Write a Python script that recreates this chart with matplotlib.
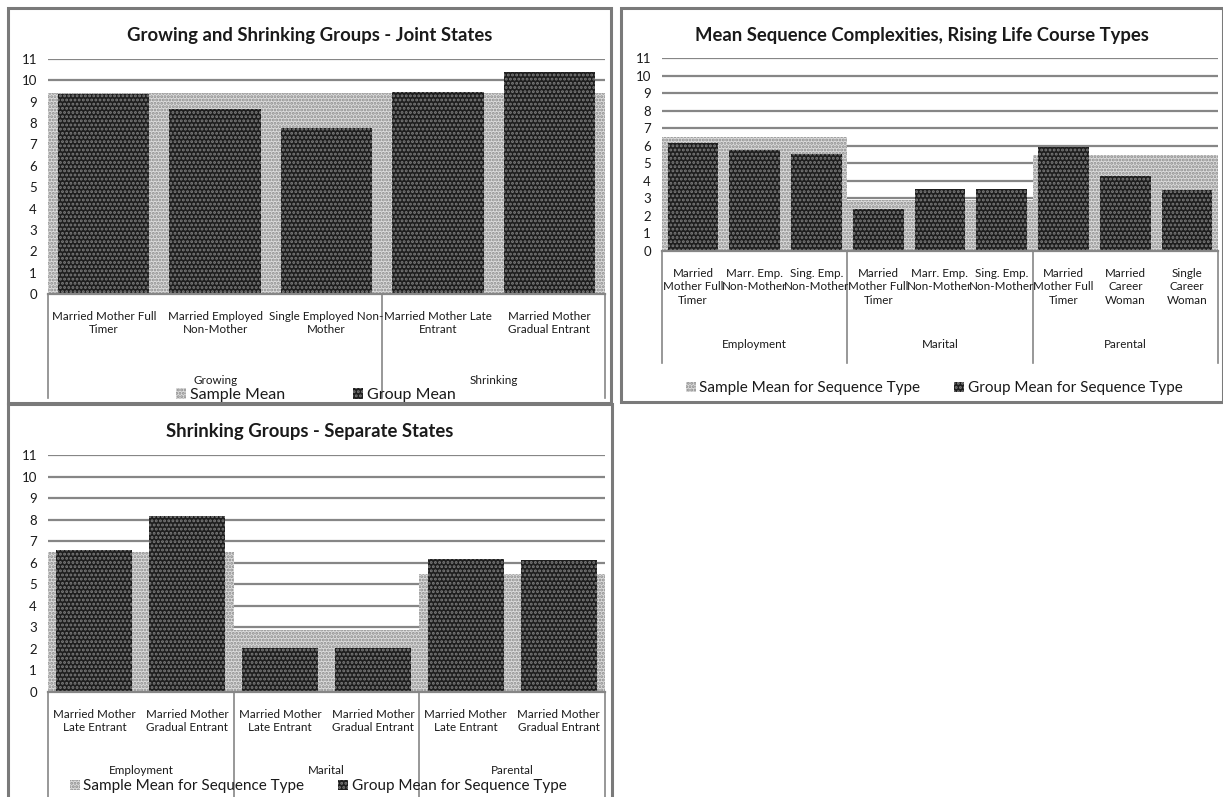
"""
Sequence complexity panels: sample means vs group means, three Excel-style bar charts.
"""
import matplotlib
matplotlib.use('Agg')
import matplotlib.pyplot as plt
import matplotlib.transforms as mtransforms
from matplotlib.patches import Rectangle, Patch

plt.rcParams['font.family'] = ['Lato', 'DejaVu Sans']
plt.rcParams['hatch.linewidth'] = 1.4

W, H = 1223, 797

# --- data -----------------------------------------------------------------
joint_categories = ["Married Mother Full\nTimer", "Married Employed\nNon-Mother",
                    "Single Employed Non-\nMother", "Married Mother Late\nEntrant",
                    "Married Mother\nGradual Entrant"]
joint_groups = ["Growing", "Shrinking"]
joint_group_sizes = [3, 2]
joint_sample = [9.4, 9.4, 9.4, 9.4, 9.4]
joint_group_mean = [9.35, 8.66, 7.75, 9.46, 10.37]

rising_categories = ["Married\nMother Full\nTimer", "Marr. Emp.\nNon-Mother", "Sing. Emp.\nNon-Mother",
                     "Married\nMother Full\nTimer", "Marr. Emp.\nNon-Mother", "Sing. Emp.\nNon-Mother",
                     "Married\nMother Full\nTimer", "Married\nCareer\nWoman", "Single\nCareer\nWoman"]
rising_groups = ["Employment", "Marital", "Parental"]
rising_group_sizes = [3, 3, 3]
rising_sample = [6.52, 6.52, 6.52, 2.93, 2.93, 2.93, 5.46, 5.46, 5.46]
rising_group_mean = [6.15, 5.74, 5.52, 2.37, 3.55, 3.55, 5.9, 4.27, 3.45]

separate_categories = ["Married Mother\nLate Entrant", "Married Mother\nGradual Entrant"] * 3
separate_groups = ["Employment", "Marital", "Parental"]
separate_group_sizes = [2, 2, 2]
separate_sample = [6.5, 6.5, 2.9, 2.9, 5.48, 5.48]
separate_group_mean = [6.59, 8.15, 2.03, 2.03, 6.15, 6.11]

y_ticks = list(range(0, 12))

SAMPLE_STYLE = dict(facecolor='#dcdcdc', edgecolor='#8a8a8a', hatch='.....', linewidth=0)
GROUP_STYLE = dict(facecolor='#1e1e1e', edgecolor='#7c7c7c', hatch='....', linewidth=0)
GRAY = '#868686'
TEXT = '#1a1a1a'


def fx(x):
    return x / W


def fy(y):
    return 1 - y / H


def draw_panel(fig, border, plot, title, title_y, cats, groups, sizes, sample, group,
               labels, label_top, group_y, box_bottom, legend_y, legend_x, legend_gap,
               legend_size=11):
    """Draw one bordered chart. All layout numbers are pixel positions."""
    bx0, by0, bx1, by1 = border
    fig.patches.append(Rectangle((fx(bx0), fy(by1)), fx(bx1 - bx0), (by1 - by0) / H,
                                 transform=fig.transFigure, fill=False,
                                 edgecolor='#7a7a7a', linewidth=2.2))

    px0, py_top, px1, py_zero = plot
    ax = fig.add_axes([fx(px0), fy(py_zero), fx(px1 - px0), (py_zero - py_top) / H])
    x = list(range(len(cats)))
    ax.bar(x, sample, width=1.0, zorder=2, **SAMPLE_STYLE)
    ax.bar(x, group, width=0.82, zorder=3, **GROUP_STYLE)

    ax.set_xlim(-0.5, len(cats) - 0.5)
    ax.set_ylim(0, 11)
    ax.set_yticks(y_ticks)
    ax.set_xticks([])
    ax.tick_params(axis='y', length=0, pad=8, labelsize=9.5, labelcolor=TEXT)
    for s in ax.spines.values():
        s.set_visible(False)
    ax.set_axisbelow(True)
    ax.yaxis.grid(True, color=GRAY, linewidth=1.6)
    ax.axhline(0, color=GRAY, linewidth=1.6, zorder=4, clip_on=False)

    fig.text(fx((bx0 + bx1) / 2), fy(title_y), title, ha='center', va='center',
             fontsize=13.3, fontweight='bold', color=TEXT)

    # category axis: two-level labels with separator lines
    blend = mtransforms.blended_transform_factory(ax.transData, fig.transFigure)
    for i, c in enumerate(cats):
        ax.text(i, fy(label_top), c, transform=blend, ha='center', va='top',
                fontsize=8.4, color=TEXT, linespacing=1.25)
    edges = [-0.5]
    for n in sizes:
        edges.append(edges[-1] + n)
    for e in edges:
        ax.plot([e, e], [fy(py_zero), fy(box_bottom)], transform=blend,
                color=GRAY, linewidth=1.2, clip_on=False)
    for g, a, b in zip(groups, edges[:-1], edges[1:]):
        ax.text((a + b) / 2, fy(group_y), g, transform=blend, ha='center', va='center',
                fontsize=8.4, color=TEXT)

    handles = [Patch(**SAMPLE_STYLE), Patch(**GROUP_STYLE)]
    fig.legend(handles, labels, loc='center left',
               bbox_to_anchor=(fx(legend_x), fy(legend_y)), ncol=2, frameon=False,
               fontsize=legend_size, handlelength=0.65, handleheight=0.65, handletextpad=0.25,
               columnspacing=legend_gap, borderpad=0, labelcolor=TEXT)
    return ax


fig = plt.figure(figsize=(W / 100, H / 100), dpi=100)

draw_panel(fig, (8, 8, 611, 403), (48, 59, 605, 294),
           "Growing and Shrinking Groups - Joint States", 35,
           joint_categories, joint_groups, joint_group_sizes, joint_sample, joint_group_mean,
           ["Sample Mean", "Group Mean"],
           label_top=311, group_y=381, box_bottom=398, legend_y=395,
           legend_x=168, legend_gap=4.2, legend_size=11.5)

draw_panel(fig, (621, 8, 1223, 402), (662, 58, 1218, 251),
           "Mean Sequence Complexities, Rising Life Course Types", 35,
           rising_categories, rising_groups, rising_group_sizes, rising_sample, rising_group_mean,
           ["Sample Mean for Sequence Type", "Group Mean for Sequence Type"],
           label_top=268, group_y=345, box_bottom=363, legend_y=388,
           legend_x=678, legend_gap=2.2)

draw_panel(fig, (8, 404, 612, 805), (48, 455, 605, 692),
           "Shrinking Groups - Separate States", 432,
           separate_categories, separate_groups, separate_group_sizes,
           separate_sample, separate_group_mean,
           ["Sample Mean for Sequence Type", "Group Mean for Sequence Type"],
           label_top=709, group_y=771, box_bottom=797, legend_y=786,
           legend_x=62, legend_gap=2.2)

fig.savefig('out.png', dpi=100)
